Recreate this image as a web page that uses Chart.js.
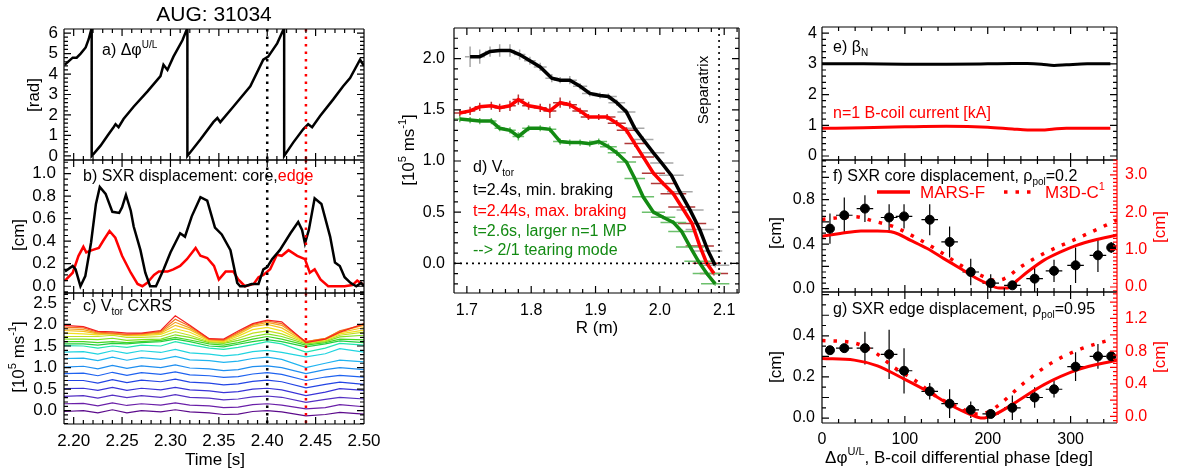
<!DOCTYPE html>
<html>
<head>
<title>AUG 31034</title>
<style>
  body { margin: 0; background: #fff; }
  #page { position: relative; width: 1178px; height: 472px; }
  #page canvas { position: absolute; left: 0; top: 0; }
</style>
</head>
<body>
<div id="page">
  <canvas id="ca" width="1178" height="472"></canvas>
  <canvas id="cb" width="1178" height="472"></canvas>
  <canvas id="cc" width="1178" height="472"></canvas>
  <canvas id="cd" width="1178" height="472"></canvas>
  <canvas id="ce" width="1178" height="472"></canvas>
  <canvas id="cf" width="1178" height="472"></canvas>
  <canvas id="cg" width="1178" height="472"></canvas>
</div>
<script src="https://cdn.jsdelivr.net/npm/chart.js@4.4.0/dist/chart.umd.min.js"></script>
<script>
// ---- data ----
// a) differential phase [rad] vs time [s]
const aTime = [2.1907, 2.199, 2.2031, 2.2072, 2.2124, 2.2155, 2.2186, 2.2186, 2.2206, 2.2278, 2.2351, 2.2412, 2.2433, 2.2464, 2.2515, 2.2619, 2.2763, 2.2897, 2.2928, 2.2969, 2.3031, 2.3124, 2.3175, 2.3175, 2.3309, 2.3443, 2.3485, 2.3515, 2.3649, 2.3825, 2.3959, 2.401, 2.4103, 2.4175, 2.4175, 2.4268, 2.4371, 2.4423, 2.4464, 2.4546, 2.468, 2.4784, 2.4856, 2.4959, 2.50];
const aPhase = [4.45, 4.8, 4.8, 5.0, 5.3, 5.7, 6.25, 0, 0.1, 0.5, 1.0, 1.4, 1.55, 1.4, 1.8, 2.4, 3.15, 3.9, 4.45, 4.2, 4.85, 5.65, 6.25, 0, 0.8, 1.65, 1.85, 1.65, 2.4, 3.4, 4.7, 4.85, 5.5, 6.25, 0, 0.65, 1.3, 1.55, 1.4, 1.95, 2.75, 3.4, 3.8, 4.7, 4.4];

// b) SXR displacement [cm]
const bCoreTime = [2.191, 2.199, 2.202, 2.207, 2.212, 2.218, 2.223, 2.227, 2.233, 2.240, 2.247, 2.250, 2.254, 2.259, 2.262, 2.269, 2.274, 2.279, 2.285, 2.293, 2.300, 2.310, 2.315, 2.322, 2.331, 2.338, 2.346, 2.353, 2.362, 2.369, 2.372, 2.377, 2.384, 2.391, 2.396, 2.400, 2.405, 2.413, 2.424, 2.432, 2.436, 2.439, 2.443, 2.449, 2.456, 2.465, 2.470, 2.475, 2.480, 2.486, 2.492, 2.497, 2.500];
const bCore = [0.13, 0.18, 0.15, 0.0, 0.09, 0.39, 0.73, 0.88, 0.82, 0.66, 0.65, 0.70, 0.81, 0.67, 0.53, 0.32, 0.12, 0.0, 0.0, 0.15, 0.30, 0.47, 0.44, 0.62, 0.79, 0.76, 0.52, 0.46, 0.32, 0.03, 0.0, 0.0, 0.02, 0.02, 0.15, 0.17, 0.24, 0.32, 0.47, 0.57, 0.50, 0.38, 0.50, 0.78, 0.73, 0.44, 0.21, 0.18, 0.08, 0.03, 0.0, 0.03, 0.0];
const bEdgeTime = [2.191, 2.199, 2.205, 2.210, 2.213, 2.219, 2.226, 2.231, 2.237, 2.243, 2.250, 2.259, 2.266, 2.271, 2.276, 2.283, 2.288, 2.297, 2.303, 2.310, 2.317, 2.326, 2.331, 2.338, 2.345, 2.350, 2.357, 2.365, 2.370, 2.377, 2.386, 2.391, 2.396, 2.403, 2.410, 2.415, 2.422, 2.431, 2.439, 2.444, 2.449, 2.455, 2.463, 2.470, 2.475, 2.480, 2.488, 2.493, 2.500];
const bEdge = [0.05, 0.12, 0.27, 0.35, 0.30, 0.32, 0.34, 0.41, 0.49, 0.43, 0.27, 0.12, 0.02, 0.0, 0.03, 0.10, 0.13, 0.13, 0.15, 0.18, 0.24, 0.34, 0.27, 0.25, 0.18, 0.06, 0.13, 0.13, 0.06, 0.0, 0.02, 0.08, 0.10, 0.15, 0.28, 0.27, 0.32, 0.27, 0.24, 0.12, 0.15, 0.06, 0.0, 0.0, 0.0, 0.0, 0.01, 0.05, 0.01];

// c) CXRS toroidal rotation, one row per channel (core-most = red, last)
const cTime = [2.19, 2.21, 2.225, 2.24, 2.255, 2.27, 2.29, 2.305, 2.32, 2.34, 2.355, 2.37, 2.385, 2.40, 2.415, 2.44, 2.46, 2.475, 2.50];
const cChannels = [
  [-0.02, 0.0, -0.05, 0.02, -0.05, 0.0, -0.03, 0.02, -0.03, -0.05, -0.09, -0.08, -0.02, 0.0, -0.03, -0.12, -0.09, -0.04, -0.08],
  [0.16, 0.17, 0.11, 0.18, 0.12, 0.16, 0.13, 0.18, 0.13, 0.11, 0.07, 0.08, 0.14, 0.16, 0.13, 0.04, 0.07, 0.14, 0.09],
  [0.33, 0.35, 0.29, 0.36, 0.30, 0.35, 0.31, 0.37, 0.31, 0.29, 0.25, 0.27, 0.32, 0.34, 0.31, 0.19, 0.26, 0.31, 0.27],
  [0.51, 0.52, 0.47, 0.54, 0.47, 0.52, 0.48, 0.54, 0.48, 0.46, 0.42, 0.44, 0.50, 0.52, 0.48, 0.35, 0.43, 0.51, 0.47],
  [0.70, 0.70, 0.64, 0.72, 0.65, 0.71, 0.67, 0.73, 0.66, 0.64, 0.60, 0.62, 0.68, 0.71, 0.67, 0.53, 0.61, 0.66, 0.61],
  [0.86, 0.87, 0.81, 0.89, 0.82, 0.88, 0.84, 0.90, 0.83, 0.81, 0.77, 0.79, 0.85, 0.88, 0.84, 0.70, 0.78, 0.82, 0.78],
  [1.01, 1.03, 0.97, 1.05, 0.98, 1.04, 1.00, 1.06, 0.99, 0.97, 0.93, 0.95, 1.02, 1.04, 1.00, 0.86, 0.95, 1.00, 0.95],
  [1.21, 1.22, 1.16, 1.24, 1.17, 1.23, 1.19, 1.26, 1.18, 1.16, 1.12, 1.15, 1.21, 1.24, 1.19, 1.00, 1.10, 1.17, 1.13],
  [1.36, 1.37, 1.31, 1.39, 1.33, 1.39, 1.35, 1.42, 1.34, 1.31, 1.27, 1.30, 1.37, 1.40, 1.35, 1.25, 1.32, 1.44, 1.36],
  [1.51, 1.50, 1.45, 1.50, 1.47, 1.52, 1.50, 1.60, 1.53, 1.45, 1.42, 1.47, 1.53, 1.60, 1.55, 1.36, 1.45, 1.56, 1.52],
  [1.55, 1.55, 1.52, 1.56, 1.55, 1.58, 1.60, 1.66, 1.60, 1.50, 1.48, 1.54, 1.60, 1.65, 1.60, 1.48, 1.55, 1.62, 1.58],
  [1.60, 1.60, 1.58, 1.60, 1.58, 1.60, 1.63, 1.70, 1.64, 1.55, 1.52, 1.58, 1.66, 1.72, 1.66, 1.52, 1.58, 1.66, 1.64],
  [1.66, 1.66, 1.65, 1.68, 1.63, 1.65, 1.66, 1.76, 1.70, 1.58, 1.56, 1.63, 1.72, 1.78, 1.72, 1.55, 1.60, 1.71, 1.75],
  [1.72, 1.72, 1.72, 1.75, 1.70, 1.70, 1.72, 1.83, 1.75, 1.60, 1.58, 1.68, 1.80, 1.85, 1.78, 1.57, 1.62, 1.75, 1.82],
  [1.80, 1.78, 1.76, 1.80, 1.74, 1.74, 1.77, 1.90, 1.82, 1.62, 1.60, 1.73, 1.88, 1.93, 1.85, 1.58, 1.64, 1.78, 1.87],
  [1.86, 1.84, 1.78, 1.78, 1.75, 1.76, 1.80, 1.98, 1.88, 1.64, 1.62, 1.77, 1.95, 2.00, 1.92, 1.59, 1.66, 1.81, 1.93],
  [1.90, 1.88, 1.80, 1.78, 1.76, 1.78, 1.82, 2.05, 1.92, 1.65, 1.63, 1.80, 1.98, 2.05, 1.98, 1.60, 1.68, 1.84, 1.98],
  [1.94, 1.92, 1.82, 1.80, 1.77, 1.78, 1.84, 2.12, 1.96, 1.66, 1.64, 1.82, 2.00, 2.08, 2.02, 1.60, 1.67, 1.85, 2.00],
  [1.98, 1.95, 1.84, 1.83, 1.80, 1.80, 1.86, 2.20, 1.98, 1.67, 1.66, 1.85, 2.02, 2.10, 2.06, 1.58, 1.66, 1.82, 2.02]
];
const cColors = ['#5c0a8c', '#6a1fa8', '#5530c4', '#3a34d8', '#2244e4', '#1e62f0', '#1e8ef0', '#20b4f0', '#20d4e0', '#20e4b0', '#22d040', '#44d424', '#80e020', '#c0e020', '#f0e020', '#f4c020', '#f4a020', '#f47020', '#f42020'];

// d) Vtor profiles vs R
const dBlackR = [1.705, 1.720, 1.736, 1.751, 1.767, 1.782, 1.798, 1.814, 1.832, 1.845, 1.860, 1.876, 1.891, 1.907, 1.920, 1.933, 1.948, 1.961, 1.974, 1.990, 2.003, 2.018, 2.031, 2.047, 2.062, 2.075, 2.086];
const dBlackV = [2.02, 2.02, 2.07, 2.08, 2.08, 2.04, 1.98, 1.92, 1.81, 1.79, 1.79, 1.73, 1.66, 1.64, 1.63, 1.57, 1.48, 1.32, 1.21, 1.08, 0.98, 0.86, 0.70, 0.52, 0.33, 0.12, -0.02];
const dBlackRe = [0.008, 0.008, 0.008, 0.008, 0.008, 0.009, 0.009, 0.010, 0.010, 0.010, 0.011, 0.011, 0.012, 0.012, 0.013, 0.013, 0.014, 0.015, 0.016, 0.017, 0.018, 0.019, 0.020, 0.021, 0.022, 0.022, 0.022];
const dBlackVe = [0.10, 0.07, 0.05, 0.06, 0.06, 0.05, 0.04, 0.04, 0.04, 0.03, 0.04, 0.03, 0.03, 0.03, 0.03, 0.03, 0.03, 0.03, 0.03, 0.02, 0.02, 0.02, 0.02, 0.02, 0.02, 0.02, 0.02];
const dRedR = [1.689, 1.705, 1.720, 1.738, 1.751, 1.767, 1.780, 1.796, 1.814, 1.829, 1.845, 1.860, 1.876, 1.889, 1.905, 1.918, 1.933, 1.948, 1.961, 1.974, 1.990, 2.005, 2.021, 2.034, 2.050, 2.062, 2.073, 2.084];
const dRedV = [1.47, 1.49, 1.53, 1.54, 1.52, 1.54, 1.60, 1.54, 1.52, 1.49, 1.57, 1.55, 1.49, 1.43, 1.43, 1.43, 1.37, 1.30, 1.17, 1.04, 0.88, 0.78, 0.68, 0.55, 0.39, 0.17, 0.0, -0.10];
const dRedRe = [0.010, 0.008, 0.008, 0.008, 0.008, 0.009, 0.009, 0.010, 0.010, 0.010, 0.011, 0.011, 0.012, 0.012, 0.013, 0.013, 0.014, 0.015, 0.016, 0.017, 0.018, 0.019, 0.020, 0.021, 0.022, 0.022, 0.022, 0.022];
const dRedVe = [0.03, 0.04, 0.04, 0.04, 0.04, 0.05, 0.05, 0.04, 0.04, 0.07, 0.05, 0.04, 0.03, 0.03, 0.03, 0.03, 0.03, 0.03, 0.03, 0.02, 0.02, 0.02, 0.02, 0.02, 0.02, 0.02, 0.02, 0.02];
const dGreenR = [1.689, 1.705, 1.720, 1.738, 1.751, 1.767, 1.780, 1.796, 1.814, 1.829, 1.845, 1.860, 1.876, 1.891, 1.905, 1.920, 1.933, 1.948, 1.961, 1.974, 1.990, 2.005, 2.021, 2.034, 2.047, 2.060, 2.073, 2.086];
const dGreenV = [1.41, 1.40, 1.39, 1.39, 1.32, 1.30, 1.24, 1.32, 1.32, 1.31, 1.19, 1.18, 1.18, 1.17, 1.19, 1.14, 1.08, 0.99, 0.83, 0.65, 0.50, 0.45, 0.40, 0.31, 0.16, 0.02, -0.10, -0.20];
const dGreenRe = [0.010, 0.008, 0.008, 0.008, 0.008, 0.009, 0.009, 0.010, 0.010, 0.010, 0.011, 0.011, 0.012, 0.012, 0.013, 0.013, 0.014, 0.015, 0.016, 0.017, 0.018, 0.019, 0.020, 0.021, 0.022, 0.022, 0.022, 0.022];
const dGreenVe = [0.03, 0.03, 0.03, 0.03, 0.03, 0.03, 0.04, 0.03, 0.03, 0.03, 0.03, 0.03, 0.03, 0.03, 0.03, 0.03, 0.03, 0.02, 0.02, 0.02, 0.02, 0.02, 0.02, 0.02, 0.02, 0.02, 0.02, 0.02];

// e) beta_N and n=1 B-coil current
const eX = [0, 50, 100, 150, 200, 230, 248, 265, 280, 295, 320, 348];
const eBeta = [3.0, 3.0, 2.99, 2.99, 3.0, 3.01, 3.01, 2.99, 2.95, 2.97, 3.0, 3.0];
const eCoil = [0.90, 0.92, 0.95, 0.97, 0.94, 0.88, 0.85, 0.85, 0.88, 0.90, 0.90, 0.90];

// f), g) SXR displacement vs differential phase
const fgPhase = [9.6, 26.9, 51.8, 81, 99, 130, 154, 179.5, 203.6, 229.7, 256.6, 280, 306, 333, 349];
const fgPhaseErr = [5, 10, 10, 10, 10, 10, 10, 10, 10, 10, 10, 10, 10, 10, 5];
const fCore = [0.54, 0.66, 0.72, 0.64, 0.65, 0.62, 0.42, 0.15, 0.05, 0.03, 0.09, 0.16, 0.21, 0.30, 0.37];
const fCoreErr = [0.135, 0.16, 0.12, 0.12, 0.11, 0.14, 0.14, 0.12, 0.08, 0.03, 0.12, 0.10, 0.16, 0.15, 0.05];
const gEdge = [0.33, 0.34, 0.34, 0.31, 0.23, 0.13, 0.07, 0.04, 0.02, 0.05, 0.10, 0.14, 0.25, 0.30, 0.30];
const gEdgeErr = [0.01, 0.02, 0.08, 0.12, 0.11, 0.04, 0.07, 0.04, 0.02, 0.06, 0.05, 0.04, 0.07, 0.06, 0.02];
const fMarsX = [0, 22, 47, 67, 87, 107, 127, 147, 167.5, 187.5, 199.6, 213.7, 223.7, 235.7, 247.8, 268, 288, 308, 328, 356];
const fMars = [1.36, 1.43, 1.50, 1.50, 1.46, 1.25, 1.03, 0.76, 0.49, 0.22, 0.09, -0.03, -0.03, 0.18, 0.40, 0.72, 0.94, 1.12, 1.25, 1.39];
const fM3dX = [0, 39, 63, 87, 115, 143, 167.5, 191.6, 207.6, 219.7, 239.8, 268, 308, 356];
const fM3d = [1.81, 1.88, 1.76, 1.61, 1.30, 0.94, 0.58, 0.31, 0.18, 0.22, 0.54, 0.90, 1.30, 1.79];
const gMarsX = [0, 39, 67, 95, 127, 155, 180, 193.6, 207.6, 231.7, 268, 308, 356];
const gMars = [0.71, 0.69, 0.62, 0.48, 0.31, 0.14, 0.02, -0.02, 0.02, 0.16, 0.39, 0.57, 0.69];
const gM3dX = [0, 39, 63, 87, 111, 139, 167.5, 187.6, 199.6, 215.7, 243.8, 276, 308, 348];
const gM3d = [0.93, 0.90, 0.79, 0.60, 0.45, 0.24, 0.10, 0.03, 0.05, 0.16, 0.41, 0.65, 0.81, 0.94];

// tick labels
const timeTicks = [2.20, 2.25, 2.30, 2.35, 2.40, 2.45, 2.50];
const aYTicks = [0, 1, 2, 3, 4, 5, 6];
const bYTicks = [0, 0.2, 0.4, 0.6, 0.8, 1.0];
const cYTicks = [0, 0.5, 1.0, 1.5, 2.0, 2.5];
const dXTicks = [1.7, 1.8, 1.9, 2.0, 2.1];
const dYTicks = [0, 0.5, 1.0, 1.5, 2.0];
const eYTicks = [0, 1, 2, 3, 4];
const fYTicks = [0, 0.4, 0.8];
const fY2Ticks = [0, 1, 2, 3];
const gYTicks = [0, 0.2, 0.4];
const gY2Ticks = [0, 0.4, 0.8, 1.2];
const phaseTicks = [0, 100, 200, 300];

// ---- drawing helpers ----
const W = 1178, H = 472;
const FONT = '"Liberation Sans", Arial, Helvetica, sans-serif';
const RED = '#ff0000', GREEN = '#138a13';
const FIG = {};

function pts(xs, ys, xe, ye) {
  return xs.map((x, i) => ({ x: x, y: ys[i], xe: xe ? xe[i] : 0, ye: ye ? ye[i] : 0 }));
}

function axis(o, pos) {
  const shown = o.show !== false;
  return {
    type: 'linear', position: pos, display: shown,
    min: o.min, max: o.max,
    grid: { display: false, drawTicks: false },
    border: { display: false },
    afterBuildTicks: s => { s.ticks = o.ticks.map(v => ({ value: v })); },
    afterFit: s => {
      if (!shown) return;
      if (s.isHorizontal()) s.height = o.size; else s.width = o.size;
    },
    ticks: {
      autoSkip: false, maxRotation: 0, padding: o.pad, color: o.color || '#000',
      font: { family: FONT, size: o.fs },
      callback: v => Number(v).toFixed(o.dec)
    }
  };
}

function tickVals(min, max, major, minor) {
  const out = [];
  const i0 = Math.ceil(min / minor - 1e-9), i1 = Math.floor(max / minor + 1e-9);
  for (let i = i0; i <= i1; i++) {
    const v = i * minor, r = v / major;
    out.push({ v: v, major: Math.abs(r - Math.round(r)) < 1e-6 });
  }
  return out;
}

function drawRich(ctx, n) {
  const size = n.size || 16, base = n.color || '#000';
  ctx.save();
  ctx.translate(n.x, n.y);
  if (n.rot) ctx.rotate(n.rot * Math.PI / 180);
  ctx.textAlign = 'left';
  ctx.textBaseline = 'alphabetic';
  const items = n.parts.map(p => {
    const kind = p[1] || '';
    const fs = kind ? Math.round(size * 0.62) : size;
    ctx.font = fs + 'px ' + FONT;
    return { t: p[0], kind: kind, fs: fs, col: p[2] || base, w: ctx.measureText(p[0]).width };
  });
  const total = items.reduce((s, it) => s + it.w, 0);
  let cx = n.align === 'center' ? -total / 2 : 0;
  items.forEach(it => {
    ctx.font = it.fs + 'px ' + FONT;
    ctx.fillStyle = it.col;
    const dy = it.kind === 'sup' ? -size * 0.45 : it.kind === 'sub' ? size * 0.22 : 0;
    ctx.fillText(it.t, cx, dy);
    cx += it.w;
  });
  ctx.restore();
}

function drawFrame(chart, f) {
  const ctx = chart.ctx, ca = chart.chartArea;
  const L = ca.left, R = ca.right, T = ca.top, B = ca.bottom;
  const xs = chart.scales.x, ys = chart.scales.y;
  ctx.save();
  ctx.lineWidth = 1.2;
  ctx.strokeStyle = '#000';
  ctx.beginPath();
  tickVals(xs.min, xs.max, f.x[0], f.x[1]).forEach(t => {
    const p = xs.getPixelForValue(t.v), len = t.major ? 7 : 4;
    ctx.moveTo(p, B); ctx.lineTo(p, B - len);
    ctx.moveTo(p, T); ctx.lineTo(p, T + len);
  });
  tickVals(ys.min, ys.max, f.y[0], f.y[1]).forEach(t => {
    const p = ys.getPixelForValue(t.v), len = t.major ? 7 : 4;
    ctx.moveTo(L, p); ctx.lineTo(L + len, p);
    if (!f.y2) { ctx.moveTo(R, p); ctx.lineTo(R - len, p); }
  });
  ctx.moveTo(L, T); ctx.lineTo(R, T);
  ctx.moveTo(L, B); ctx.lineTo(R, B);
  ctx.moveTo(L, T); ctx.lineTo(L, B);
  if (!f.y2) { ctx.moveTo(R, T); ctx.lineTo(R, B); }
  ctx.stroke();
  if (f.y2) {
    const y2 = chart.scales.y2;
    ctx.strokeStyle = RED;
    ctx.beginPath();
    tickVals(y2.min, y2.max, f.y2[0], f.y2[1]).forEach(t => {
      const p = y2.getPixelForValue(t.v), len = t.major ? 7 : 4;
      ctx.moveTo(R, p); ctx.lineTo(R - len, p);
    });
    ctx.moveTo(R, T); ctx.lineTo(R, B);
    ctx.stroke();
  }
  ctx.restore();
}

const figPlugin = {
  id: 'fig',
  beforeDatasetsDraw(chart) {
    const ctx = chart.ctx, ca = chart.chartArea;
    ctx.save();
    ctx.beginPath();
    ctx.rect(ca.left, ca.top, ca.width, ca.height);
    ctx.clip();
    chart.data.datasets.forEach((ds, i) => {
      if (!ds.eb) return;
      const meta = chart.getDatasetMeta(i);
      const xs = chart.scales[meta.xAxisID], ys = chart.scales[meta.yAxisID];
      ctx.strokeStyle = ds.eb.color;
      ctx.lineWidth = ds.eb.width;
      ctx.beginPath();
      ds.data.forEach(p => {
        const px = xs.getPixelForValue(p.x), py = ys.getPixelForValue(p.y);
        if (p.xe) { ctx.moveTo(xs.getPixelForValue(p.x - p.xe), py); ctx.lineTo(xs.getPixelForValue(p.x + p.xe), py); }
        if (p.ye) { ctx.moveTo(px, ys.getPixelForValue(p.y - p.ye)); ctx.lineTo(px, ys.getPixelForValue(p.y + p.ye)); }
      });
      ctx.stroke();
    });
    ctx.restore();
  },
  afterDatasetsDraw(chart) {
    const cfg = FIG[chart.canvas.id] || {};
    const ctx = chart.ctx, ca = chart.chartArea;
    ctx.save();
    ctx.beginPath();
    ctx.rect(ca.left, ca.top, ca.width, ca.height);
    ctx.clip();
    (cfg.refs || []).forEach(r => {
      ctx.strokeStyle = r.color;
      ctx.lineWidth = r.width;
      ctx.setLineDash(r.dash);
      ctx.beginPath();
      if (r.axis === 'x') {
        const p = chart.scales.x.getPixelForValue(r.value);
        ctx.moveTo(p, ca.top); ctx.lineTo(p, ca.bottom);
      } else {
        const p = chart.scales.y.getPixelForValue(r.value);
        ctx.moveTo(ca.left, p); ctx.lineTo(ca.right, p);
      }
      ctx.stroke();
    });
    ctx.restore();
  },
  afterDraw(chart) {
    const cfg = FIG[chart.canvas.id] || {};
    const ctx = chart.ctx;
    if (cfg.frame) drawFrame(chart, cfg.frame);
    (cfg.notes || []).forEach(n => {
      if (n.line) {
        ctx.save();
        ctx.strokeStyle = n.color;
        ctx.lineWidth = n.width;
        ctx.setLineDash(n.dash || []);
        ctx.beginPath();
        ctx.moveTo(n.x1, n.y); ctx.lineTo(n.x2, n.y);
        ctx.stroke();
        ctx.restore();
      } else {
        drawRich(ctx, n);
      }
    });
  }
};

function build(id, box, sc, datasets, fig) {
  const pad = {
    left: box.l - sc.y.size,
    right: W - box.r - (sc.y2 ? sc.y2.size : 0),
    top: box.t,
    bottom: H - box.b - (sc.x.show ? sc.x.size : 0)
  };
  const scales = { x: axis(sc.x, 'bottom'), y: axis(sc.y, 'left') };
  if (sc.y2) scales.y2 = axis(sc.y2, 'right');
  FIG[id] = fig;
  return new Chart(document.getElementById(id), {
    type: 'line',
    data: { datasets: datasets },
    options: {
      responsive: false, animation: false, devicePixelRatio: 1, events: [],
      layout: { padding: pad },
      plugins: { legend: { display: false }, tooltip: { enabled: false } },
      elements: { point: { radius: 0 }, line: { tension: 0 } },
      scales: scales
    },
    plugins: [figPlugin]
  });
}

function line(xs, ys, color, width, extra) {
  return Object.assign({ data: pts(xs, ys), borderColor: color, borderWidth: width, pointRadius: 0, fill: false }, extra || {});
}

const timeRefs = [
  { axis: 'x', value: 2.40, color: '#000', width: 2.5, dash: [2.5, 5] },
  { axis: 'x', value: 2.44, color: RED, width: 2.5, dash: [2.5, 5] }
];
const timeAxis = (show) => ({ min: 2.19, max: 2.50, ticks: timeTicks, dec: 2, fs: 17, pad: 7, size: 40, show: show });

// ---- a) ----
build('ca', { l: 64, t: 29, r: 364, b: 160 },
  { x: timeAxis(false), y: { min: -0.2, max: 6.2, ticks: aYTicks, dec: 0, fs: 17, pad: 6, size: 60 } },
  [line(aTime, aPhase, '#000', 2.5)],
  {
    refs: timeRefs,
    frame: { x: [0.05, 0.01], y: [1, 0.2] },
    notes: [
      { x: 214, y: 21, parts: [['AUG: 31034']], size: 21, align: 'center' },
      { x: 102, y: 55, parts: [['a) \u0394\u03c6'], ['U/L', 'sup']], size: 16 },
      { x: 39, y: 95, rot: -90, align: 'center', parts: [['[rad]']], size: 17 }
    ]
  });

// ---- b) ----
build('cb', { l: 64, t: 160, r: 364, b: 293 },
  { x: timeAxis(false), y: { min: -0.06, max: 1.12, ticks: bYTicks, dec: 1, fs: 17, pad: 8, size: 60 } },
  [line(bCoreTime, bCore, '#000', 2.5), line(bEdgeTime, bEdge, RED, 2.5)],
  {
    refs: timeRefs,
    frame: { x: [0.05, 0.01], y: [0.2, 0.05] },
    notes: [
      { x: 83, y: 181, parts: [['b) SXR displacement: core,'], ['edge', '', RED]], size: 16 },
      { x: 24, y: 235, rot: -90, align: 'center', parts: [['[cm]']], size: 17 }
    ]
  });

// ---- c) ----
build('cc', { l: 64, t: 293, r: 364, b: 424 },
  { x: timeAxis(true), y: { min: -0.31, max: 2.73, ticks: cYTicks, dec: 1, fs: 17, pad: 7, size: 60 } },
  cChannels.map((ch, i) => line(cTime, ch, cColors[i], 1.2, { order: cChannels.length - i })),
  {
    refs: timeRefs,
    frame: { x: [0.05, 0.01], y: [0.5, 0.1] },
    notes: [
      { x: 83, y: 311, parts: [['c) V'], ['tor', 'sub'], [' CXRS']], size: 16 },
      { x: 24, y: 357, rot: -90, align: 'center', parts: [['[10'], ['5', 'sup'], [' ms'], ['-1', 'sup'], [']']], size: 17 },
      { x: 215, y: 465, align: 'center', parts: [['Time [s]']], size: 17 }
    ]
  });

// ---- d) ----
build('cd', { l: 454, t: 28, r: 739, b: 293 },
  {
    x: { min: 1.68, max: 2.123, ticks: dXTicks, dec: 1, fs: 16, pad: 8, size: 40, show: true },
    y: { min: -0.29, max: 2.30, ticks: dYTicks, dec: 1, fs: 16, pad: 9, size: 50 }
  },
  [
    { data: pts(dBlackR, dBlackV, dBlackRe, dBlackVe), borderColor: '#000', borderWidth: 3.5, pointRadius: 0, eb: { color: '#a8a8a8', width: 1.5 } },
    { data: pts(dRedR, dRedV, dRedRe, dRedVe), borderColor: RED, borderWidth: 3.5, pointRadius: 0, eb: { color: '#b03838', width: 1.5 } },
    { data: pts(dGreenR, dGreenV, dGreenRe, dGreenVe), borderColor: GREEN, borderWidth: 3.5, pointRadius: 0, eb: { color: '#6cc06c', width: 1.5 } }
  ],
  {
    refs: [
      { axis: 'x', value: 2.092, color: '#000', width: 1.6, dash: [2, 4] },
      { axis: 'y', value: 0, color: '#000', width: 1.6, dash: [2, 4] }
    ],
    frame: { x: [0.1, 0.02], y: [0.5, 0.1] },
    notes: [
      { x: 473, y: 172, parts: [['d) V'], ['tor', 'sub']], size: 16 },
      { x: 473, y: 195, parts: [['t=2.4s, min. braking']], size: 16 },
      { x: 473, y: 216, parts: [['t=2.44s, max. braking']], size: 16, color: RED },
      { x: 473, y: 236, parts: [['t=2.6s, larger n=1 MP']], size: 16, color: GREEN },
      { x: 473, y: 255, parts: [['--> 2/1 tearing mode']], size: 16, color: GREEN },
      { x: 708, y: 90, rot: -90, align: 'center', parts: [['Separatrix']], size: 15 },
      { x: 414, y: 150, rot: -90, align: 'center', parts: [['[10'], ['5', 'sup'], [' ms'], ['-1', 'sup'], [']']], size: 17 },
      { x: 597, y: 333, align: 'center', parts: [['R (m)']], size: 17 }
    ]
  });

// ---- e) ----
const phaseAxis = (show) => ({ min: 0, max: 356, ticks: phaseTicks, dec: 0, fs: 16, pad: 7, size: 40, show: show });
build('ce', { l: 822, t: 27, r: 1117, b: 160 },
  { x: phaseAxis(false), y: { min: -0.13, max: 4.2, ticks: eYTicks, dec: 0, fs: 16, pad: 5, size: 50 } },
  [line(eX, eBeta, '#000', 3, { cubicInterpolationMode: 'monotone' }), line(eX, eCoil, RED, 3, { cubicInterpolationMode: 'monotone' })],
  {
    frame: { x: [100, 20], y: [1, 0.2] },
    notes: [
      { x: 833, y: 52, parts: [['e) \u03b2'], ['N', 'sub']], size: 16 },
      { x: 833, y: 118, parts: [['n=1 B-coil current [kA]']], size: 16, color: RED }
    ]
  });

// ---- f) ----
build('cf', { l: 822, t: 160, r: 1117, b: 292 },
  {
    x: phaseAxis(false),
    y: { min: -0.03, max: 1.157, ticks: fYTicks, dec: 1, fs: 16, pad: 7, size: 50 },
    y2: { min: -0.134, max: 3.40, ticks: fY2Ticks, dec: 1, fs: 16, pad: 8, size: 50, color: RED }
  },
  [
    { data: pts(fgPhase, fCore, fgPhaseErr, fCoreErr), showLine: false, pointRadius: 4.5, pointBackgroundColor: '#000', pointBorderColor: '#000', borderColor: '#000', eb: { color: '#000', width: 1.2 } },
    line(fMarsX, fMars, RED, 3, { yAxisID: 'y2', cubicInterpolationMode: 'monotone' }),
    line(fM3dX, fM3d, RED, 3.5, { yAxisID: 'y2', cubicInterpolationMode: 'monotone', borderDash: [3.5, 8] })
  ],
  {
    frame: { x: [100, 20], y: [0.2, 0.05], y2: [1, 0.1] },
    notes: [
      { x: 833, y: 181, parts: [['f) SXR core displacement, \u03c1'], ['pol', 'sub'], ['=0.2']], size: 16 },
      { line: true, x1: 877, x2: 910, y: 192, color: RED, width: 3.5 },
      { x: 920, y: 198, parts: [['MARS-F']], size: 17, color: RED },
      { line: true, x1: 1004, x2: 1036, y: 192, color: RED, width: 3.5, dash: [3.5, 8] },
      { x: 1045, y: 198, parts: [['M3D-C'], ['1', 'sup']], size: 17, color: RED },
      { x: 781, y: 233, rot: -90, align: 'center', parts: [['[cm]']], size: 17 },
      { x: 1165, y: 227, rot: -90, align: 'center', parts: [['[cm]']], size: 17, color: RED }
    ]
  });

// ---- g) ----
build('cg', { l: 822, t: 292, r: 1117, b: 423 },
  {
    x: phaseAxis(true),
    y: { min: -0.024, max: 0.613, ticks: gYTicks, dec: 1, fs: 16, pad: 7, size: 50 },
    y2: { min: -0.08, max: 1.524, ticks: gY2Ticks, dec: 1, fs: 16, pad: 8, size: 50, color: RED }
  },
  [
    { data: pts(fgPhase, gEdge, fgPhaseErr, gEdgeErr), showLine: false, pointRadius: 4.5, pointBackgroundColor: '#000', pointBorderColor: '#000', borderColor: '#000', eb: { color: '#000', width: 1.2 } },
    line(gMarsX, gMars, RED, 3, { yAxisID: 'y2', cubicInterpolationMode: 'monotone' }),
    line(gM3dX, gM3d, RED, 3.5, { yAxisID: 'y2', cubicInterpolationMode: 'monotone', borderDash: [3.5, 8] })
  ],
  {
    frame: { x: [100, 20], y: [0.1, 0.05], y2: [0.2, 0.05] },
    notes: [
      { x: 833, y: 314, parts: [['g) SXR edge displacement, \u03c1'], ['pol', 'sub'], ['=0.95']], size: 16 },
      { x: 781, y: 367, rot: -90, align: 'center', parts: [['[cm]']], size: 17 },
      { x: 1165, y: 357, rot: -90, align: 'center', parts: [['[cm]']], size: 17, color: RED },
      { x: 959, y: 463, align: 'center', parts: [['\u0394\u03c6'], ['U/L', 'sup'], [', B-coil differential phase [deg]']], size: 17 }
    ]
  });
</script>
</body>
</html>
